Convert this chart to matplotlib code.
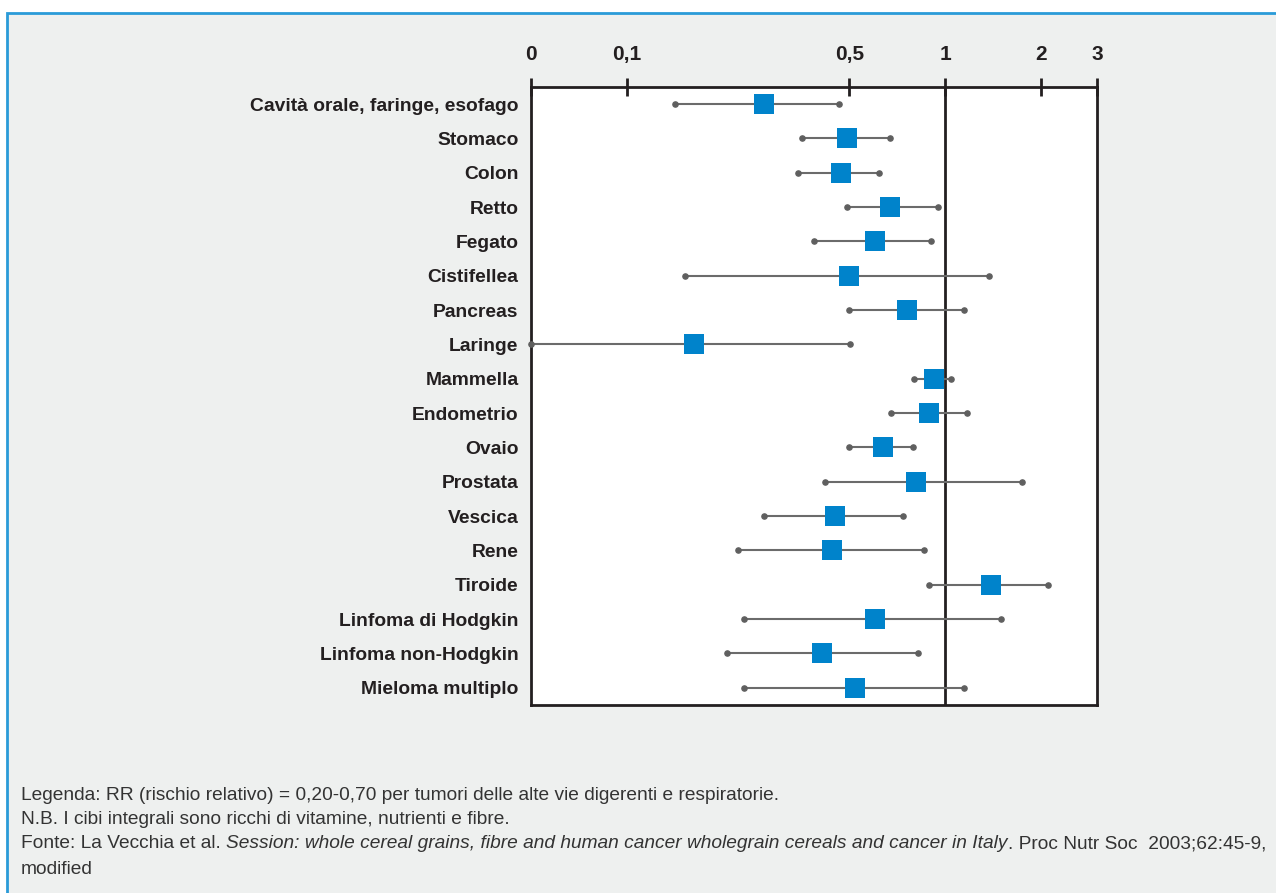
import matplotlib
matplotlib.use("Agg")
import matplotlib.pyplot as plt
from matplotlib.patches import Rectangle
from matplotlib.ticker import FixedLocator, NullLocator

plt.rcParams['font.family'] = ['Liberation Sans', 'DejaVu Sans']

# data: relative risk (point) and 95% CI (low, high)
sites = ["Cavità orale, faringe, esofago", "Stomaco", "Colon", "Retto", "Fegato",
         "Cistifellea", "Pancreas", "Laringe", "Mammella", "Endometrio", "Ovaio",
         "Prostata", "Vescica", "Rene", "Tiroide", "Linfoma di Hodgkin",
         "Linfoma non-Hodgkin", "Mieloma multiplo"]
rr = [0.27, 0.49, 0.47, 0.67, 0.60, 0.50, 0.76, 0.163, 0.92, 0.89, 0.64,
      0.81, 0.45, 0.44, 1.39, 0.60, 0.41, 0.52]
rr_low = [0.142, 0.356, 0.346, 0.49, 0.388, 0.152, 0.50, 0.05, 0.80, 0.678, 0.50,
          0.42, 0.27, 0.224, 0.893, 0.234, 0.206, 0.234]
rr_high = [0.465, 0.673, 0.622, 0.947, 0.906, 1.37, 1.15, 0.504, 1.04, 1.17, 0.79,
           1.75, 0.735, 0.856, 2.10, 1.50, 0.819, 1.15]

tick_vals = [0.05, 0.1, 0.5, 1, 2, 3]
tick_labels = ["0", "0,1", "0,5", "1", "2", "3"]

dark = "#231f20"
blue = "#0083cb"
grey = "#6b6b6b"
txt = "#333333"

fig = plt.figure(figsize=(12.76, 8.93), dpi=100)
fig.patch.set_facecolor("white")
fig.patches.append(Rectangle((7 / 1276, -0.05), 1.1, 1 - 13 / 893 + 0.05,
                             transform=fig.transFigure, facecolor="#eef0ef",
                             edgecolor="#2a9bd8", linewidth=2, zorder=-10))

ax = fig.add_axes([531 / 1276, 1 - 705 / 893, (1097 - 531) / 1276, (705 - 87) / 893])
ax.set_facecolor("white")
ax.set_xscale("log")
ax.set_xlim(0.05, 3)
ax.set_ylim(len(sites) - 0.5, -0.5)

ypos = list(range(len(sites)))
ax.hlines(ypos, rr_low, rr_high, color=grey, linewidth=1.5, zorder=2)
ax.scatter(rr_low, ypos, s=14, color="#5f5f5f", zorder=3, clip_on=False)
ax.scatter(rr_high, ypos, s=14, color="#5f5f5f", zorder=3, clip_on=False)
ax.scatter(rr, ypos, marker="s", s=190, color=blue, zorder=4, linewidths=0)
ax.axvline(1, color=dark, linewidth=2, zorder=1)

ax.xaxis.set_major_locator(FixedLocator(tick_vals))
ax.xaxis.set_minor_locator(NullLocator())
ax.set_xticklabels(tick_labels)
ax.xaxis.tick_top()
ax.tick_params(axis="x", direction="inout", length=13, width=2, color=dark,
               labelsize=15, pad=10, labelcolor=dark)
for lbl in ax.get_xticklabels():
    lbl.set_fontweight("bold")

ax.set_yticks(ypos)
ax.set_yticklabels(sites, fontsize=13.9, fontweight="bold", color=dark)
ax.tick_params(axis="y", length=0, pad=9)

for sp in ax.spines.values():
    sp.set_color(dark)
    sp.set_linewidth(2)

notes = [
    "Legenda: RR (rischio relativo) = 0,20-0,70 per tumori delle alte vie digerenti e respiratorie.",
    "N.B. I cibi integrali sono ricchi di vitamine, nutrienti e fibre.",
]
fs = 13.8
fig.text(21 / 1276, 1 - 795 / 893, notes[0], fontsize=fs, color=txt, va="center")
fig.text(21 / 1276, 1 - 819 / 893, notes[1], fontsize=fs, color=txt, va="center")

# source line with italic title
y_src = 1 - 844 / 893
t1 = fig.text(21 / 1276, y_src, "Fonte: La Vecchia et al. ", fontsize=fs, color=txt, va="center")
fig.canvas.draw()
r = fig.canvas.get_renderer()
bb = t1.get_window_extent(r)
t2 = fig.text(bb.x1 / 1276, y_src,
              "Session: whole cereal grains, fibre and human cancer wholegrain cereals and cancer in Italy",
              fontsize=fs, color=txt, va="center", style="italic")
bb2 = t2.get_window_extent(r)
fig.text(bb2.x1 / 1276, y_src, ". Proc Nutr Soc  2003;62:45-9,", fontsize=fs,
         color=txt, va="center")
fig.text(21 / 1276, 1 - 870 / 893, "modified", fontsize=fs, color=txt, va="center")

fig.savefig("out.png", dpi=100)
